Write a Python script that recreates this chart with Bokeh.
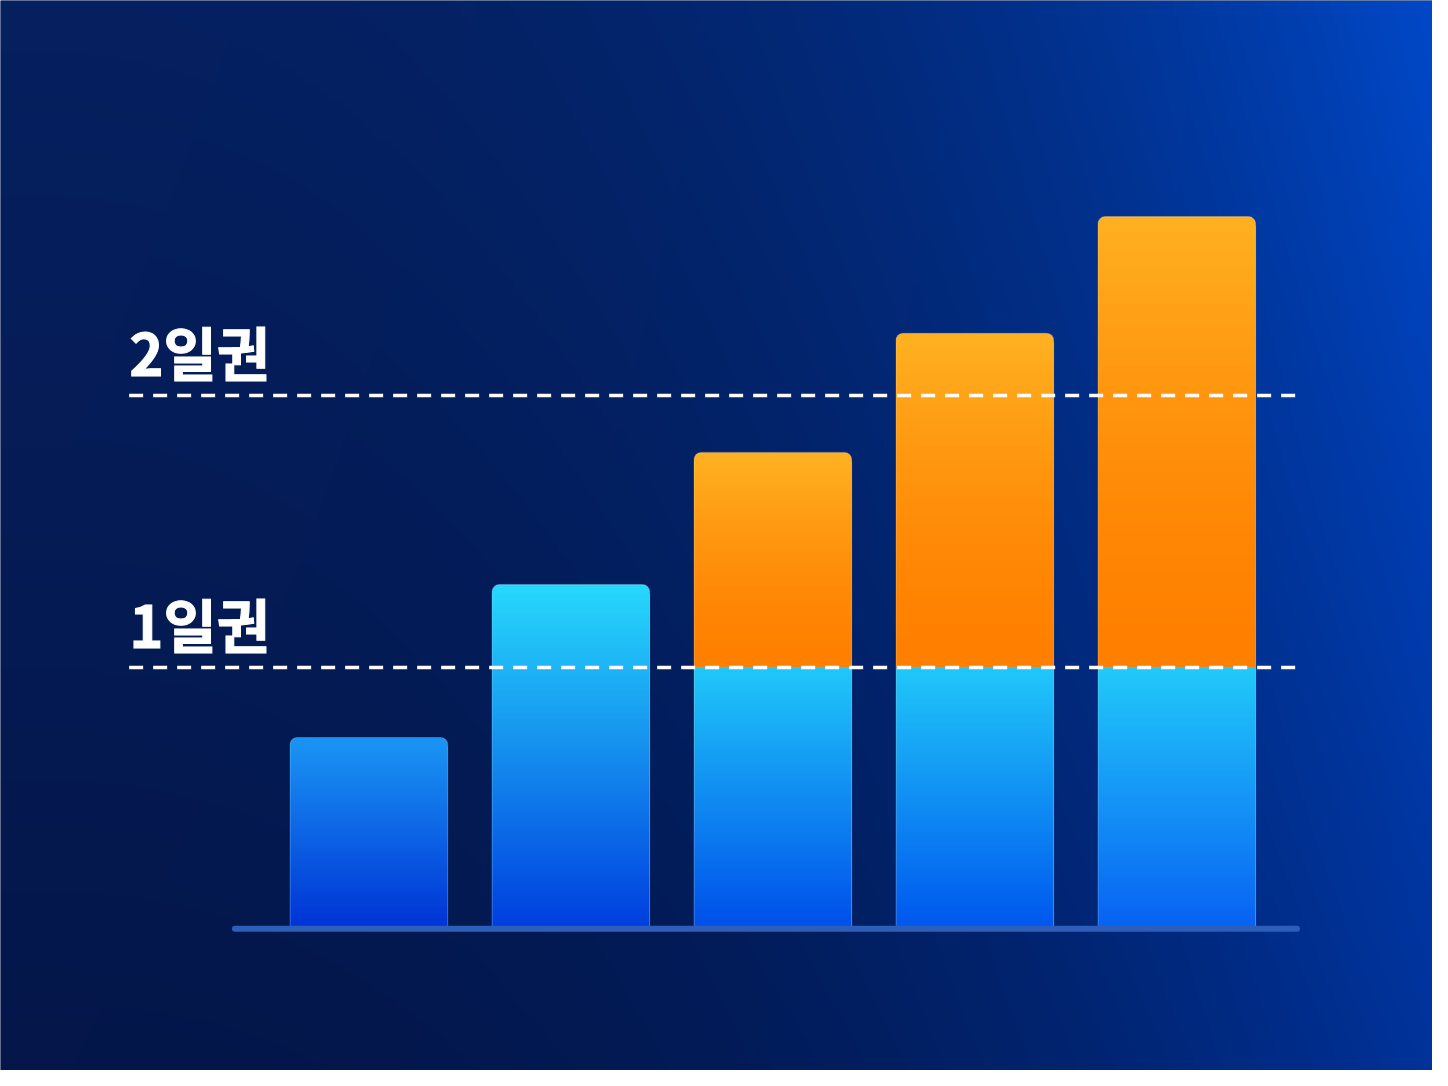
import numpy as np
from bokeh.plotting import figure
from bokeh.models import Range1d
from bokeh.core.properties import value
from bokeh.embed import file_html
from bokeh.resources import INLINE

# ---------------- data ----------------
stages = [1, 2, 3, 4, 5]
base_part = [0.73, 1.32, 1.00, 1.00, 1.00]     # blue (1-day pass portion)
extra_part = [0.00, 0.00, 0.83, 1.29, 1.74]     # orange (beyond 1-day pass)
threshold_labels = ["1일권", "2일권"]
threshold_vals = [1.00, 2.05]

# ---------------- styles ----------------
blue_top = ["#1a92f3", "#27d6fc", "#21c8fa", "#21c8fa", "#22cafa"]
blue_bottom = ["#0034d6", "#003fdf", "#0050ea", "#0058ee", "#0862f3"]
orange_top = "#ffb020"
orange_bottom = "#ff8000"
BAR_W = 0.78
W, H = 1432, 1070

X0, X1 = -0.824, 6.266
Y0, Y1 = -0.555, 3.574
LINE_LEFT, LINE_RIGHT = -0.187, 5.595
AXIS_LEFT = 0.337
LABEL_LIFT = 0.173


def rgb(h):
    h = h.lstrip("#")
    return np.array([int(h[i:i + 2], 16) for i in (0, 2, 4)], dtype=float)


def pack(r, g, b):
    r = np.clip(r, 0, 255).astype(np.uint32)
    g = np.clip(g, 0, 255).astype(np.uint32)
    b = np.clip(b, 0, 255).astype(np.uint32)
    a = np.full(r.shape, 255, dtype=np.uint32)
    return (a << 24) | (b << 16) | (g << 8) | r


def vgrad(bottom_hex, top_hex, n=256, gamma=1.0):
    c0, c1 = rgb(bottom_hex), rgb(top_hex)
    t = np.linspace(0, 1, n)[:, None, None] ** gamma
    c = c0 + (c1 - c0) * t          # shape (n, 1, 3)
    return pack(c[..., 0], c[..., 1], c[..., 2])


p = figure(width=W, height=H, x_range=Range1d(X0, X1), y_range=Range1d(Y0, Y1),
           output_backend="svg", toolbar_location=None, min_border=0)
p.axis.visible = False
p.grid.visible = False
p.outline_line_color = None
p.background_fill_color = "#031a50"
p.border_fill_color = "#031a50"

# background gradient (dark navy -> bright blue at top right)
ny, nx = 270, 360
u = np.linspace(0, 1, nx)[None, :]
v = 1 - np.linspace(0, 1, ny)[:, None]          # 0 at top, 1 at bottom
k = u ** 2.6
R = 6 * (1 - u) * (1 - 0.3 * v)
G = (32 + 40 * k) * (1 - 0.3 * v)
B = (96 + 104 * k) * (1 - 0.23 * v)
bg = pack(R, G, B)
p.image_rgba(image=[bg], x=X0, y=Y0, dw=X1 - X0, dh=Y1 - Y0)

# base of rounded bars
totals = [b + e for b, e in zip(base_part, extra_part)]
cap_colors = [orange_top if e > 0 else blue_top[i] for i, e in enumerate(extra_part)]
p.vbar(x=stages, width=BAR_W, bottom=0, top=totals, fill_color=cap_colors,
       line_color=None, border_radius=(7, 7, 0, 0))

CAP = 0.035
for i, s in enumerate(stages):
    b = base_part[i]
    e = extra_part[i]
    bh = b - (CAP if e == 0 else 0)
    p.image_rgba(image=[vgrad(blue_bottom[i], blue_top[i])], x=s - BAR_W / 2, y=0,
                 dw=BAR_W, dh=bh)
    if e > 0:
        p.image_rgba(image=[vgrad(orange_bottom, orange_top, gamma=1.6)],
                     x=s - BAR_W / 2, y=b, dw=BAR_W, dh=e - CAP)

# subtle light edge on bars
p.vbar(x=stages, width=BAR_W, bottom=0, top=totals, fill_color=None,
       line_color="white", line_alpha=0.18, line_width=1.2, border_radius=(7, 7, 0, 0))

# threshold dashed lines
p.segment(x0=[LINE_LEFT] * len(threshold_vals), x1=[LINE_RIGHT] * len(threshold_vals),
          y0=threshold_vals, y1=threshold_vals, line_color="white", line_width=3.5,
          line_dash="14 10")

# threshold labels
p.text(x=[LINE_LEFT] * len(threshold_vals),
       y=[t + LABEL_LIFT for t in threshold_vals], text=threshold_labels,
       text_font=value("Noto Sans CJK KR"), text_font_style="bold",
       text_font_size="58px", text_color="white", text_baseline="alphabetic",
       text_align="left", text_outline_color="white")

# baseline
p.segment(x0=[AXIS_LEFT], x1=[LINE_RIGHT], y0=[-0.008], y1=[-0.008],
          line_color="#2d5eba", line_width=6, line_cap="round")

open("out.html", "w").write(file_html(p, INLINE))
